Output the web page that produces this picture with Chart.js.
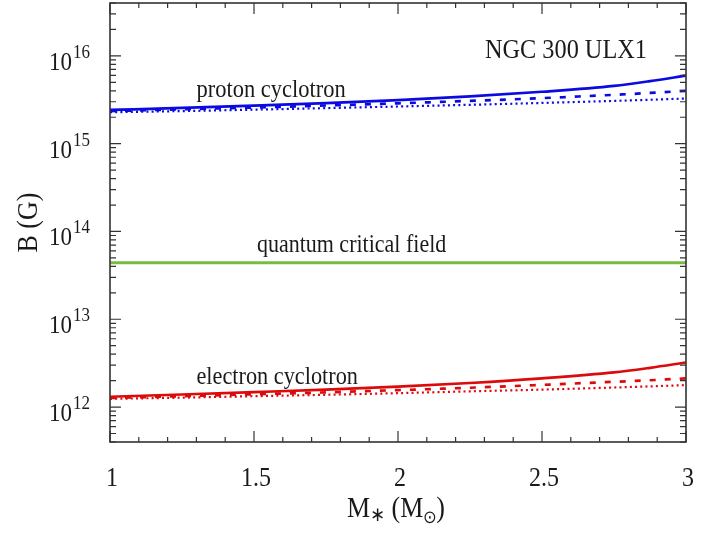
<!DOCTYPE html>
<html>
<head>
<meta charset="utf-8">
<script src="https://cdn.jsdelivr.net/npm/chart.js@4.4.1/dist/chart.umd.min.js"></script>
<style>
    body { margin: 0; background: #fff; }
    #wrap { width: 718px; height: 535px; }
</style>
</head>
<body>
<div id="wrap"><canvas id="myChart" width="718" height="535"></canvas></div>
<script>
// Data (B in Gauss vs neutron star mass in solar masses)
var masses = [1, 1.25, 1.5, 1.75, 2, 2.25, 2.5, 2.75, 2.875, 3];
var protonSolid = [2.42e15, 2.55e15, 2.71e15, 2.90e15, 3.14e15, 3.46e15, 3.90e15, 4.55e15, 5.15e15, 5.95e15];
var protonDashed = [2.35e15, 2.46e15, 2.58e15, 2.72e15, 2.88e15, 3.07e15, 3.30e15, 3.60e15, 3.78e15, 4.00e15];
var protonDotted = [2.28e15, 2.35e15, 2.44e15, 2.54e15, 2.65e15, 2.77e15, 2.91e15, 3.07e15, 3.16e15, 3.27e15];
var electronSolid = [1.31e12, 1.39e12, 1.48e12, 1.58e12, 1.71e12, 1.88e12, 2.12e12, 2.48e12, 2.80e12, 3.22e12];
var electronDashed = [1.27e12, 1.33e12, 1.40e12, 1.47e12, 1.56e12, 1.66e12, 1.79e12, 1.94e12, 2.02e12, 2.12e12];
var electronDotted = [1.24e12, 1.28e12, 1.33e12, 1.38e12, 1.44e12, 1.51e12, 1.58e12, 1.67e12, 1.72e12, 1.78e12];
var criticalMasses = [1, 3];
var criticalField = [4.4e13, 4.4e13];

var xTicks = [1, 1.5, 2, 2.5, 3];
var xTickLabels = ['1', '1.5', '2', '2.5', '3'];
var yTicks = [1e12, 1e13, 1e14, 1e15, 1e16];
var yTickExponents = ['12', '13', '14', '15', '16'];

var SERIF = '"Liberation Serif", "Times New Roman", serif';
var STRETCH = 1.1; // the original picture is a bit taller than wide

function pairs(xs, ys) {
    return xs.map(function(x, i) { return { x: x, y: ys[i] }; });
}

function txt(ctx, s, x, y, size, align) {
    ctx.save();
    ctx.translate(x, y);
    ctx.scale(1, STRETCH);
    ctx.font = size + 'px ' + SERIF;
    ctx.textAlign = align || 'left';
    ctx.textBaseline = 'alphabetic';
    ctx.fillStyle = '#1a1a1a';
    ctx.fillText(s, 0, 0);
    ctx.restore();
}

function width(ctx, s, size) {
    ctx.font = size + 'px ' + SERIF;
    return ctx.measureText(s).width;
}

// frame, inward ticks, tick labels, axis titles and annotations
var framePlugin = {
    id: 'frame',
    afterDraw: function(chart) {
        var ctx = chart.ctx;
        var a = chart.chartArea;
        var xs = chart.scales.x;
        var ys = chart.scales.y;
        var i, k, e, v, p, len;

        ctx.save();
        ctx.strokeStyle = '#333';
        ctx.lineWidth = 1.6;
        ctx.strokeRect(a.left, a.top, a.right - a.left, a.bottom - a.top);

        ctx.lineWidth = 1.2;
        ctx.beginPath();
        for (i = 0; i <= 20; i++) {
            v = 1 + i * 0.1;
            p = xs.getPixelForValue(v);
            len = (i % 5 === 0) ? 11 : 5;
            ctx.moveTo(p, a.bottom); ctx.lineTo(p, a.bottom - len);
            ctx.moveTo(p, a.top); ctx.lineTo(p, a.top + len);
        }
        for (e = 11; e <= 16; e++) {
            for (k = 1; k <= 9; k++) {
                v = k * Math.pow(10, e);
                if (v < ys.min || v > ys.max) continue;
                p = ys.getPixelForValue(v);
                len = (k === 1) ? 11 : 6;
                ctx.moveTo(a.left, p); ctx.lineTo(a.left + len, p);
                ctx.moveTo(a.right, p); ctx.lineTo(a.right - len, p);
            }
        }
        ctx.stroke();
        ctx.restore();

        // x tick labels
        xTicks.forEach(function(t, j) {
            txt(ctx, xTickLabels[j], xs.getPixelForValue(t) + 2, a.bottom + 44, 24, 'center');
        });
        // y tick labels: 10 with superscript exponent
        yTicks.forEach(function(t, j) {
            var py = ys.getPixelForValue(t);
            txt(ctx, '10', a.left - 38, py + 14, 23, 'right');
            txt(ctx, yTickExponents[j], a.left - 37, py + 2, 17, 'left');
        });

        // x title: M* (M_sun) with subscripts
        var parts = [['M', 26, 0], ['\u2217', 18, 4], [' (M', 26, 0], ['\u2299', 16, 6], [')', 26, 0]];
        var total = 0;
        parts.forEach(function(q) { total += width(ctx, q[0], q[1]); });
        var cx = (a.left + a.right) / 2 - total / 2 - 2;
        parts.forEach(function(q) {
            txt(ctx, q[0], cx, a.bottom + 75 + q[2], q[1], 'left');
            cx += width(ctx, q[0], q[1]);
        });

        // y title
        ctx.save();
        ctx.translate(a.left - 73, (a.top + a.bottom) / 2);
        ctx.rotate(-Math.PI / 2);
        txt(ctx, 'B (G)', 0, 0, 26, 'center');
        ctx.restore();

        // annotations
        txt(ctx, 'NGC 300 ULX1', xs.getPixelForValue(2.302), ys.getPixelForValue(9.4e15), 24.3, 'left');
        txt(ctx, 'proton cyclotron', xs.getPixelForValue(1.30), ys.getPixelForValue(3.43e15), 22.5, 'left');
        txt(ctx, 'quantum critical field', xs.getPixelForValue(1.51), ys.getPixelForValue(5.87e13), 22, 'left');
        txt(ctx, 'electron cyclotron', xs.getPixelForValue(1.30), ys.getPixelForValue(1.85e12), 22.3, 'left');
    }
};

var BLUE = 'rgb(10, 10, 225)';
var RED = 'rgb(220, 10, 10)';
var GREEN = 'rgb(115, 190, 65)';

function line(data, color, w, dash) {
    return {
        data: data,
        borderColor: color,
        borderWidth: w,
        borderDash: dash,
        pointRadius: 0,
        fill: false,
        cubicInterpolationMode: 'monotone'
    };
}

var ctx = document.getElementById('myChart').getContext('2d');
window.myChart = new Chart(ctx, {
    type: 'line',
    data: {
        datasets: [
            line(pairs(criticalMasses, criticalField), GREEN, 3, []),
            line(pairs(masses, protonDotted), BLUE, 2.2, [2, 3.2]),
            line(pairs(masses, protonDashed), BLUE, 2.7, [6, 9]),
            line(pairs(masses, protonSolid), BLUE, 2.7, []),
            line(pairs(masses, electronDotted), RED, 2.2, [2, 3.2]),
            line(pairs(masses, electronDashed), RED, 2.7, [6, 9]),
            line(pairs(masses, electronSolid), RED, 2.7, [])
        ]
    },
    options: {
        responsive: false,
        animation: false,
        layout: { padding: { left: 0, right: 32, top: 3, bottom: 0 } },
        plugins: {
            legend: { display: false },
            tooltip: { enabled: false }
        },
        scales: {
            x: {
                type: 'linear',
                min: 1,
                max: 3,
                grid: { display: false },
                border: { display: false },
                ticks: { display: false },
                afterFit: function(s) { s.height = 93; }
            },
            y: {
                type: 'logarithmic',
                min: 4e11,
                max: 4e16,
                grid: { display: false },
                border: { display: false },
                ticks: { display: false },
                afterFit: function(s) { s.width = 110; }
            }
        }
    },
    plugins: [framePlugin]
});
</script>
</body>
</html>
